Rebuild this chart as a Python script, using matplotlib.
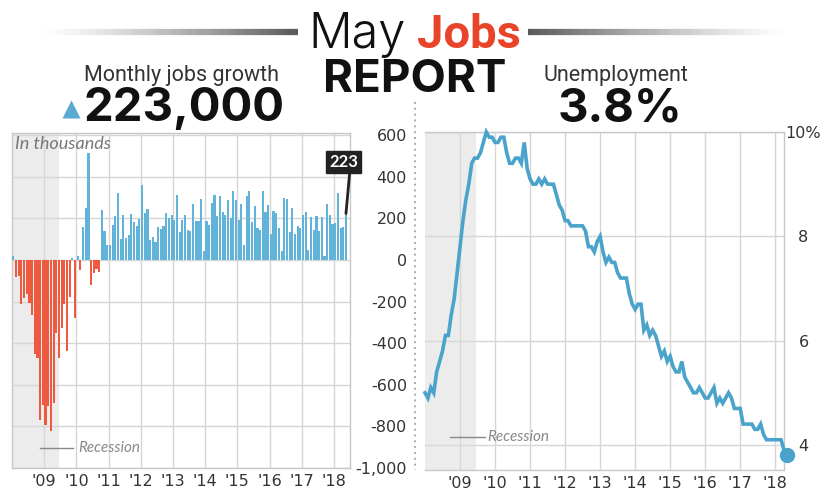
import matplotlib
matplotlib.use("Agg")
import matplotlib.pyplot as plt
from matplotlib import font_manager
from matplotlib.collections import LineCollection
import numpy as np

# ---------------------------------------------------------------- data
years = [2008, 2009, 2010, 2011, 2012, 2013, 2014, 2015, 2016, 2017, 2018]
year_labels = ["'09", "'10", "'11", "'12", "'13", "'14", "'15", "'16", "'17", "'18"]

# Monthly change in nonfarm payrolls, thousands (Jan 2008 - May 2018)
jobs_change = [
    17, -84, -78, -210, -185, -165, -209, -266, -452, -473, -769, -695,
    -791, -703, -823, -686, -351, -470, -329, -212, -438, -178, 7, -278,
    17, -50, 156, 251, 516, -122, -61, -42, -57, 241, 137, 71,
    70, 168, 212, 322, 102, 217, 106, 122, 221, 183, 164, 196,
    360, 226, 243, 96, 110, 88, 160, 150, 161, 225, 203, 214,
    190, 311, 135, 192, 218, 146, 140, 268, 185, 189, 291, 45,
    187, 168, 272, 310, 213, 306, 232, 218, 286, 200, 331, 286,
    190, 271, 70, 309, 331, 182, 257, 153, 143, 331, 231, 265,
    126, 237, 225, 153, 43, 297, 291, 135, 249, 124, 164, 155,
    216, 232, 50, 207, 145, 210, 138, 208, 18, 271, 216, 175,
    176, 324, 155, 159, 223,
]

# Unemployment rate, percent (Jan 2008 - May 2018)
unemployment = [
    5.0, 4.9, 5.1, 5.0, 5.4, 5.6, 5.8, 6.1, 6.1, 6.5, 6.8, 7.3,
    7.8, 8.3, 8.7, 9.0, 9.4, 9.5, 9.5, 9.6, 9.8, 10.0, 9.9, 9.9,
    9.8, 9.8, 9.9, 9.9, 9.6, 9.4, 9.4, 9.5, 9.5, 9.4, 9.8, 9.3,
    9.1, 9.0, 9.0, 9.1, 9.0, 9.1, 9.0, 9.0, 9.0, 8.8, 8.6, 8.5,
    8.3, 8.3, 8.2, 8.2, 8.2, 8.2, 8.2, 8.1, 7.8, 7.8, 7.7, 7.9,
    8.0, 7.7, 7.5, 7.6, 7.5, 7.5, 7.3, 7.2, 7.2, 7.2, 6.9, 6.7,
    6.6, 6.7, 6.7, 6.2, 6.3, 6.1, 6.2, 6.1, 5.9, 5.7, 5.8, 5.6,
    5.7, 5.5, 5.4, 5.4, 5.6, 5.3, 5.2, 5.1, 5.0, 5.0, 5.1, 5.0,
    4.9, 4.9, 5.0, 5.1, 4.8, 4.9, 4.8, 4.9, 5.0, 4.9, 4.7, 4.7,
    4.7, 4.4, 4.4, 4.4, 4.4, 4.3, 4.3, 4.4, 4.2, 4.1, 4.1, 4.1,
    4.1, 4.1, 4.1, 3.9, 3.8,
]

jobs_ticks = [600, 400, 200, 0, -200, -400, -600, -800, -1000]
jobs_tick_labels = ["600", "400", "200", "0", "-200", "-400", "-600", "-800", "-1,000"]
rate_ticks = [10, 8, 6, 4]
rate_tick_labels = ["10%", "8", "6", "4"]

recession = (2007.9, 2009.45)
headline_jobs = "223,000"
headline_rate = "3.8%"
latest_jobs_label = "223"

# ---------------------------------------------------------------- fonts
installed = {f.name for f in font_manager.fontManager.ttflist}


def pick(*names):
    for n in names:
        if n in installed:
            return n
    return "DejaVu Sans"


TICKS = "DejaVu Sans"
BODY = pick("Lato", "Inter", "Open Sans")
HEAD = pick("Roboto", "Open Sans", "Lato")
HEAD_BOLD = pick("Inter", "Open Sans", "Roboto")

plt.rcParams["font.family"] = TICKS

RED = "#ee5a3f"
BLUE_BAR = "#62b3d9"
BLUE_LINE = "#4aa3cb"
GRID = "#d6d6d6"
SHADE = "#ececec"
TXT = "#333333"

W, H = 824, 490
fig = plt.figure(figsize=(W / 100, H / 100), dpi=100)
fig.patch.set_facecolor("white")


def box(x0, y0, x1, y1):
    return [x0 / W, 1 - y1 / H, (x1 - x0) / W, (y1 - y0) / H]


# ---------------------------------------------------------------- jobs bars
axL = fig.add_axes(box(12, 133, 350, 468))
n = len(jobs_change)
xm = years[0] + (np.arange(n) + 0.5) / 12
vals = np.array(jobs_change)
colors = [BLUE_BAR if v >= 0 else RED for v in vals]
axL.axvspan(*recession, color=SHADE, zorder=0, lw=0)
axL.bar(xm, vals, width=0.8 / 12, color=colors, zorder=3, lw=0)
axL.set_xlim(2008.0, 2018.5)
axL.set_ylim(-1000, 610)
axL.set_xticks(years[1:])
axL.set_xticklabels(year_labels)
axL.set_yticks(jobs_ticks)
axL.set_yticklabels(jobs_tick_labels)
axL.yaxis.tick_right()
for lab in axL.get_yticklabels():
    lab.set_horizontalalignment("right")
axL.tick_params(axis="y", length=0, pad=41, labelsize=11.5, labelcolor=TXT)
axL.tick_params(axis="x", length=0, pad=4, labelsize=11.5, labelcolor=TXT)
axL.grid(True, color=GRID, lw=1, zorder=1)
axL.set_axisbelow(True)
for s in axL.spines.values():
    s.set_color("#c8c8c8")
    s.set_linewidth(1)
axL.text(0.008, 0.99, "In thousands", transform=axL.transAxes, ha="left", va="top",
         fontsize=13, style="italic", color="#777777", family=BODY)
axL.plot([2008.88, 2009.9], [-905, -905], color="#888888", lw=1, zorder=4)
axL.text(2010.05, -905, "Recession", ha="left", va="center", fontsize=11,
         style="italic", color="#888888", zorder=4, family=BODY)
axL.annotate(latest_jobs_label, xy=(xm[-1], vals[-1]), xytext=(2018.3, 470),
             ha="center", va="center", fontsize=12, fontweight="bold", color="white",
             family=BODY,
             bbox=dict(boxstyle="square,pad=0.2", fc="#222222", ec="#222222"),
             arrowprops=dict(arrowstyle="-", color="#222222", lw=2,
                             relpos=(0.72, 0.0), shrinkA=0, shrinkB=0),
             zorder=6, annotation_clip=False)

# ---------------------------------------------------------------- unemployment line
axR = fig.add_axes(box(425, 132, 784, 470))
xr = years[0] + np.arange(len(unemployment)) / 12
axR.axvspan(*recession, color=SHADE, zorder=0, lw=0)
axR.plot(xr, unemployment, color=BLUE_LINE, lw=2.6, zorder=3, clip_on=False,
         solid_joinstyle="miter")
axR.plot([xr[-1]], [unemployment[-1]], "o", color=BLUE_LINE, ms=10, zorder=4, clip_on=False)
axR.set_xlim(2008.0, 2018.25)
axR.set_ylim(3.52, 10.0)
axR.set_xticks(years[1:])
axR.set_xticklabels(year_labels)
axR.set_yticks(rate_ticks)
axR.set_yticklabels(rate_tick_labels)
axR.yaxis.tick_right()
for lab in axR.get_yticklabels():
    lab.set_horizontalalignment("center")
axR.tick_params(axis="y", length=0, pad=14, labelsize=11.5, labelcolor=TXT)
axR.tick_params(axis="x", length=0, pad=4, labelsize=11.5, labelcolor=TXT)
axR.grid(True, color=GRID, lw=1, zorder=1)
axR.set_axisbelow(True)
for s in axR.spines.values():
    s.set_color("#c8c8c8")
    s.set_linewidth(1)
axR.spines["left"].set_visible(False)
axR.plot([2008.72, 2009.72], [4.16, 4.16], color="#888888", lw=1, zorder=4)
axR.text(2009.78, 4.16, "Recession", ha="left", va="center", fontsize=11,
         style="italic", color="#888888", zorder=4, family=BODY)

# ---------------------------------------------------------------- header
ov = fig.add_axes([0, 0, 1, 1], zorder=-1)
ov.set_xlim(0, W)
ov.set_ylim(H, 0)
ov.axis("off")


def fade_line(x0, x1, y, reverse=False):
    xs = np.linspace(x0, x1, 120)
    segs = [[(xs[i], y), (xs[i + 1], y)] for i in range(len(xs) - 1)]
    t = np.linspace(0, 1, len(segs))
    if reverse:
        t = t[::-1]
    cols = [(0.35, 0.35, 0.35, a) for a in t ** 1.3]
    ov.add_collection(LineCollection(segs, colors=cols, linewidths=4.5, capstyle="butt"))


fade_line(40, 298, 32)
fade_line(528, 790, 32, reverse=True)

ov.text(406, 48, "May", ha="right", va="baseline", fontsize=35, family=HEAD_BOLD,
        color="#111111", fontweight=300)
ov.text(417, 48, "Jobs", ha="left", va="baseline", fontsize=34, family=HEAD,
        color="#e8442a", fontweight="bold")
ov.text(415, 92, "REPORT", ha="center", va="baseline", fontsize=33, family=HEAD_BOLD,
        color="#111111", fontweight="bold")
ov.text(182, 81, "Monthly jobs growth", ha="center", va="baseline", fontsize=15.5,
        family=HEAD, color=TXT)
ov.text(616, 81, "Unemployment", ha="center", va="baseline", fontsize=15.5,
        family=HEAD, color=TXT)
ov.plot([71], [109], marker="^", ms=13, color="#5aaad2", mec="none")
ov.text(84, 121, headline_jobs, ha="left", va="baseline", fontsize=34, family=HEAD_BOLD,
        color="#111111", fontweight="bold")
ov.text(620, 121, headline_rate, ha="center", va="baseline", fontsize=34, family=HEAD_BOLD,
        color="#111111", fontweight="bold")
ov.plot([415, 415], [102, 470], color="#aaaaaa", lw=1.4, ls=(0, (1, 2)))

fig.savefig("out.png", dpi=100, facecolor="white")
